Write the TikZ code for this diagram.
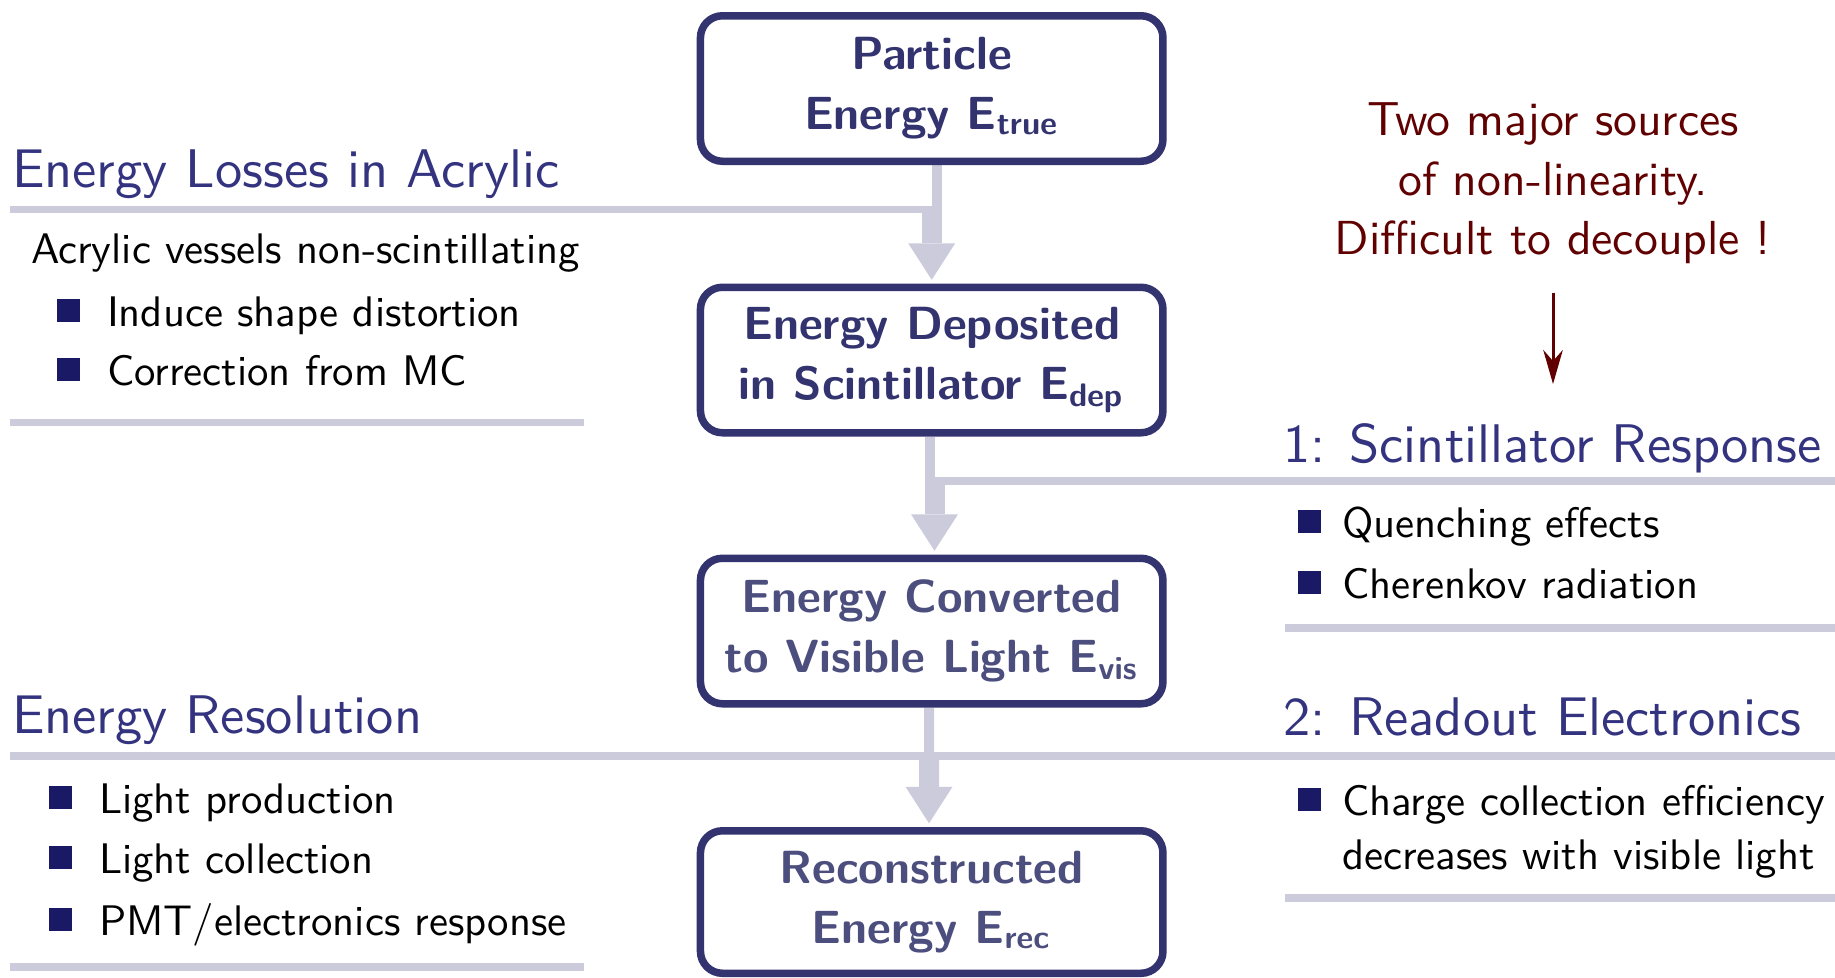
\documentclass[tikz,border=0pt]{standalone}
\usepackage{fontspec}
\newfontfamily\bodysf{lmsans10-regular.otf}
\usetikzlibrary{arrows.meta,backgrounds}
\definecolor{boxc}{RGB}{51,51,112}
\definecolor{boxfade}{RGB}{76,78,126}
\definecolor{headc}{RGB}{51,51,128}
\definecolor{rulec}{RGB}{203,203,219}
\definecolor{bulc}{RGB}{25,25,102}
\definecolor{notec}{RGB}{96,0,0}
\begin{document}
\begin{tikzpicture}[x=0.2pt,y=-0.2pt,
  box/.style={draw=boxc, line width=1.5pt, rounded corners=4.4pt, fill=white,
    minimum width=92.5pt, minimum height=29.1pt, align=center, inner sep=0pt,
    font=\sffamily\bfseries\fontsize{9.3}{12}\selectfont, text=boxc},
  head/.style={anchor=base west, inner sep=0pt, text=headc,
    font=\sffamily\fontsize{10.88}{13}\selectfont},
  item/.style={anchor=base west, inner sep=0pt, text=black,
    font=\bodysf\fontsize{8.55}{11}\selectfont},
  bulletsq/.style={fill=bulc, minimum size=4.6pt, inner sep=0pt, anchor=south west},
  note/.style={align=center, inner sep=0pt, text=notec,
    font=\sffamily\fontsize{9.55}{11.9}\selectfont},
  rule/.style={draw=rulec, line width=1.55pt},
  stem/.style={draw=rulec, line width=2pt},
  wide/.style={draw=rulec, line width=4pt, shorten >=0.75pt,
    -{Triangle[width=9.4pt,length=7.3pt,line width=0pt]}},
  notearrow/.style={draw=notec, line width=0.6pt, -{Stealth[length=6.8pt,width=3.9pt]}}
]
\useasboundingbox (0,0) rectangle (1835,977);

% boxes
\node[box] (b1) at (931.7,88.5) {Particle\\Energy E\textsubscript{true}};
\node[box] (b2) at (931.7,360) {Energy Deposited\\in Scintillator E\textsubscript{dep}};
\node[box, text=boxfade] (b3) at (931.7,631) {Energy Converted\\to Visible Light E\textsubscript{vis}};
\node[box, text=boxfade, minimum height=28.5pt] (b4) at (931.7,902) {Reconstructed\\Energy E\textsubscript{rec}};

% junctions
\coordinate (j1) at (931.7,209.5);
\coordinate (j2) at (934.5,481);
\coordinate (j3) at (929,756);

% left texts
\node[head] (h1) at (11,187) {Energy Losses in Acrylic};
\node[item] (a0) at (30,263) {Acrylic vessels non-scintillating};
\node[bulletsq] (qa1) at (56,322.5) {};
\node[item] (a1) at (106,326) {Induce shape distortion};
\node[bulletsq] (qa2) at (56,381.5) {};
\node[item] (a2) at (106,385) {Correction from MC};

\node[head] (h2) at (11,733) {Energy Resolution};
\node[bulletsq] (qr1) at (48,809.5) {};
\node[item] (r1) at (98,813) {Light production};
\node[bulletsq] (qr2) at (48,869.5) {};
\node[item] (r2) at (98,873) {Light collection};
\node[bulletsq] (qr3) at (48,931.5) {};
\node[item] (r3) at (98,935) {PMT/electronics response};

% right texts
\node[note] (note) at (1553,183.5) {Two major sources\\of non-linearity.\\Difficult to decouple !};
\coordinate (noteend) at (1553,384);
\draw[notearrow] ([yshift=-5.5pt]note.south) -- (noteend);

\node[head] (h3) at (1282,462) {1: Scintillator Response};
\node[bulletsq] (qs1) at (1297,533.5) {};
\node[item] (s1) at (1341,537) {Quenching effects};
\node[bulletsq] (qs2) at (1297,594.5) {};
\node[item] (s2) at (1341,598) {Cherenkov radiation};

\node[head] (h4) at (1282,735) {2: Readout Electronics};
\node[bulletsq] (qe1) at (1297,811.5) {};
\node[item] (e1) at (1341,815) {Charge collection efficiency};
\node[item] (e2) at (1341,869) {decreases with visible light};

\begin{pgfonlayer}{background}
\fill[white] (0,0) rectangle (1835,977);
% rules
\draw[rule] (9.5,209.5) -- (j1);
\draw[rule] (9.5,422.5) -- (584,422.5);
\draw[rule] (9.5,756) -- (1835,756);
\draw[rule] (9.5,967) -- (584,967);
\draw[rule] (j2) -- (1835,481);
\draw[rule] (1285,628) -- (1835,628);
\draw[rule] (1285,898) -- (1835,898);
% flow arrows
\draw[stem] ([xshift=1pt]b1.south) -- ([xshift=1pt]b1.south |- j1);
\draw[wide] ([yshift=0.75pt]j1) -- (b2.north);
\draw[stem] ([xshift=-0.44pt]b2.south) -- ([xshift=-0.44pt]b2.south |- j2);
\draw[wide] ([yshift=0.75pt]j2) -- ([xshift=0.56pt]b3.north);
\draw[stem] ([xshift=-0.54pt]b3.south) -- (j3);
\draw[wide] ([yshift=0.75pt]j3) -- ([xshift=-0.54pt]b4.north);
\end{pgfonlayer}
\end{tikzpicture}
\end{document}
